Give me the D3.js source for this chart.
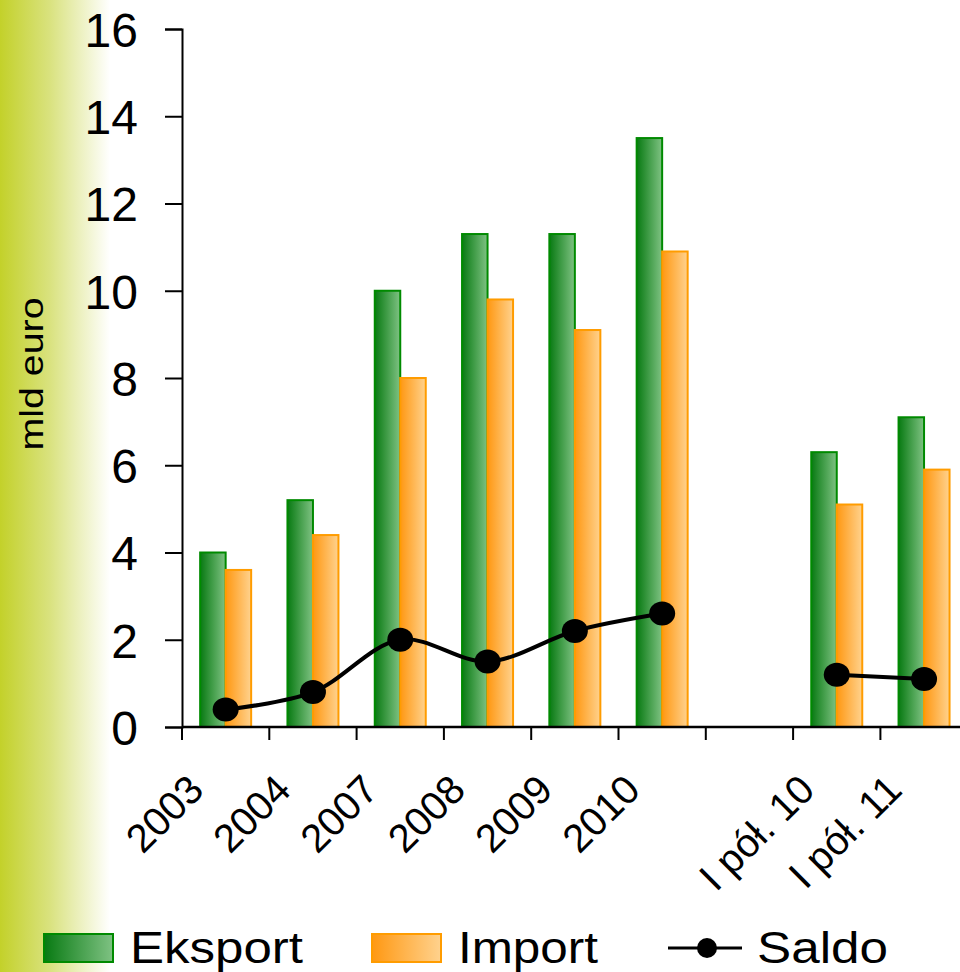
<!DOCTYPE html>
<html lang="pl">
<head>
  <meta charset="UTF-8" />
  <title>Eksport, import, saldo</title>
  <script src="https://d3js.org/d3.v7.min.js"></script>
  <style>
    body {
      margin: 0;
      padding: 0;
      background: #ffffff;
      font-family: Arial, "Liberation Sans", sans-serif;
    }
    #chart { width: 960px; height: 972px; }
  </style>
</head>
<body>
  <div id="chart"></div>

  <script>
    // data (mld euro)
    const categories = ["2003", "2004", "2007", "2008", "2009", "2010", "", "I pół. 10", "I pół. 11"];
    const eksport = [4.0, 5.2, 10.0, 11.3, 11.3, 13.5, null, 6.3, 7.1];
    const importValues = [3.6, 4.4, 8.0, 9.8, 9.1, 10.9, null, 5.1, 5.9];
    const saldo = [0.4, 0.8, 2.0, 1.5, 2.2, 2.6, null, 1.2, 1.1];
    const yTicks = [0, 2, 4, 6, 8, 10, 12, 14, 16];
    const legendLabels = ["Eksport", "Import", "Saldo"];

    const width = 960, height = 972;
    const margin = { top: 29, left: 182, bottom: 245 };
    const plotRight = 967.7;

    const svg = d3.select("#chart").append("svg")
      .attr("width", width)
      .attr("height", height);

    const defs = svg.append("defs");

    // left background strip
    const bg = defs.append("linearGradient").attr("id", "bgGrad")
      .attr("x1", "0%").attr("x2", "100%").attr("y1", "0%").attr("y2", "0%");
    bg.append("stop").attr("offset", "0%").attr("stop-color", "#c3d12a");
    bg.append("stop").attr("offset", "45%").attr("stop-color", "#d9e27e");
    bg.append("stop").attr("offset", "100%").attr("stop-color", "#ffffff");
    svg.append("rect")
      .attr("x", 0).attr("y", 0)
      .attr("width", 110).attr("height", height)
      .attr("fill", "url(#bgGrad)");

    // bar gradients
    function barGradient(id, c1, c2) {
      const g = defs.append("linearGradient").attr("id", id)
        .attr("x1", "0%").attr("x2", "100%").attr("y1", "0%").attr("y2", "0%");
      g.append("stop").attr("offset", "0%").attr("stop-color", c1);
      g.append("stop").attr("offset", "100%").attr("stop-color", c2);
    }
    barGradient("greenGrad", "#087a12", "#7fc283");
    barGradient("orangeGrad", "#ff9812", "#ffd28e");

    // scales
    const x = d3.scaleBand()
      .domain(categories.map((c, i) => i))
      .range([margin.left, plotRight])
      .padding(0);

    const y = d3.scaleLinear()
      .domain([0, 16])
      .range([height - margin.bottom, margin.top]);

    const barW = 25.5;

    // bars
    const rows = categories.map((c, i) => ({ i, e: eksport[i], m: importValues[i], s: saldo[i] }));

    svg.append("g").selectAll("rect")
      .data(rows.filter(d => d.e != null))
      .join("rect")
      .attr("x", d => x(d.i) + x.bandwidth() / 2 - barW)
      .attr("y", d => y(d.e))
      .attr("width", barW)
      .attr("height", d => y(0) - y(d.e))
      .attr("fill", "url(#greenGrad)")
      .attr("stroke", "#008a00")
      .attr("stroke-width", 2);

    svg.append("g").selectAll("rect")
      .data(rows.filter(d => d.m != null))
      .join("rect")
      .attr("x", d => x(d.i) + x.bandwidth() / 2)
      .attr("y", d => y(d.m))
      .attr("width", barW)
      .attr("height", d => y(0) - y(d.m))
      .attr("fill", "url(#orangeGrad)")
      .attr("stroke", "#ff9c00")
      .attr("stroke-width", 2);

    // y axis
    const yAxis = d3.axisLeft(y)
      .tickValues(yTicks)
      .tickSize(17)
      .tickPadding(27)
      .tickSizeOuter(17);

    const yg = svg.append("g")
      .attr("transform", `translate(${margin.left},0)`)
      .call(yAxis);
    yg.select(".domain").attr("stroke", "#000").attr("stroke-width", 2);
    yg.selectAll(".tick line").attr("stroke", "#000").attr("stroke-width", 2);
    yg.selectAll(".tick text")
      .attr("fill", "#000")
      .attr("dy", "0.36em")
      .style("font-family", "Arial, 'Liberation Sans', sans-serif")
      .style("font-size", "48px");

    // x axis: ticks on category boundaries
    const boundaries = d3.range(categories.length + 1).map(i => margin.left + i * x.bandwidth());
    const xg = svg.append("g");
    xg.append("line")
      .attr("x1", margin.left).attr("x2", width)
      .attr("y1", y(0)).attr("y2", y(0))
      .attr("stroke", "#000").attr("stroke-width", 2.5);
    xg.selectAll("line.tick")
      .data(boundaries.slice(0, categories.length))
      .join("line")
      .attr("class", "tick")
      .attr("x1", d => d).attr("x2", d => d)
      .attr("y1", y(0)).attr("y2", y(0) + 13)
      .attr("stroke", "#000").attr("stroke-width", 2);

    xg.selectAll("text")
      .data(rows.filter(d => categories[d.i] !== ""))
      .join("text")
      .attr("transform", d => `translate(${x(d.i) + x.bandwidth() / 2 - 20},${y(0) + 65}) rotate(-45)`)
      .attr("text-anchor", "end")
      .attr("fill", "#000")
      .style("font-size", "40px")
      .text(d => categories[d.i]);

    // y title
    svg.append("text")
      .attr("transform", `translate(43,374) rotate(-90)`)
      .attr("text-anchor", "middle")
      .attr("fill", "#000")
      .attr("textLength", 153)
      .attr("lengthAdjust", "spacingAndGlyphs")
      .style("font-size", "33px")
      .text("mld euro");

    // saldo line
    const lineGen = d3.line()
      .defined(d => d.s != null)
      .x(d => x(d.i) + x.bandwidth() / 2)
      .y(d => y(d.s))
      .curve(d3.curveCatmullRom.alpha(0.5));

    svg.append("path")
      .datum(rows)
      .attr("fill", "none")
      .attr("stroke", "#000")
      .attr("stroke-width", 4)
      .attr("d", lineGen);

    svg.append("g").selectAll("ellipse")
      .data(rows.filter(d => d.s != null))
      .join("ellipse")
      .attr("cx", d => x(d.i) + x.bandwidth() / 2)
      .attr("cy", d => y(d.s))
      .attr("rx", 13)
      .attr("ry", 12)
      .attr("fill", "#000");

    // legend
    const legY = 948;
    const leg = svg.append("g");
    leg.append("rect")
      .attr("x", 44).attr("y", 934).attr("width", 69).attr("height", 28)
      .attr("fill", "url(#greenGrad)").attr("stroke", "#008a00").attr("stroke-width", 2);
    leg.append("rect")
      .attr("x", 372).attr("y", 934).attr("width", 69).attr("height", 28)
      .attr("fill", "url(#orangeGrad)").attr("stroke", "#ff9c00").attr("stroke-width", 2);
    leg.append("line")
      .attr("x1", 668).attr("x2", 742).attr("y1", legY).attr("y2", legY)
      .attr("stroke", "#000").attr("stroke-width", 3);
    leg.append("circle")
      .attr("cx", 707).attr("cy", legY).attr("r", 10).attr("fill", "#000");

    const legText = [
      { t: legendLabels[0], x: 130, w: 173 },
      { t: legendLabels[1], x: 458, w: 140 },
      { t: legendLabels[2], x: 757, w: 131 }
    ];
    leg.selectAll("text")
      .data(legText)
      .join("text")
      .attr("x", d => d.x)
      .attr("y", 963)
      .attr("fill", "#000")
      .attr("textLength", d => d.w)
      .attr("lengthAdjust", "spacingAndGlyphs")
      .style("font-size", "44px")
      .text(d => d.t);
  </script>
</body>
</html>
